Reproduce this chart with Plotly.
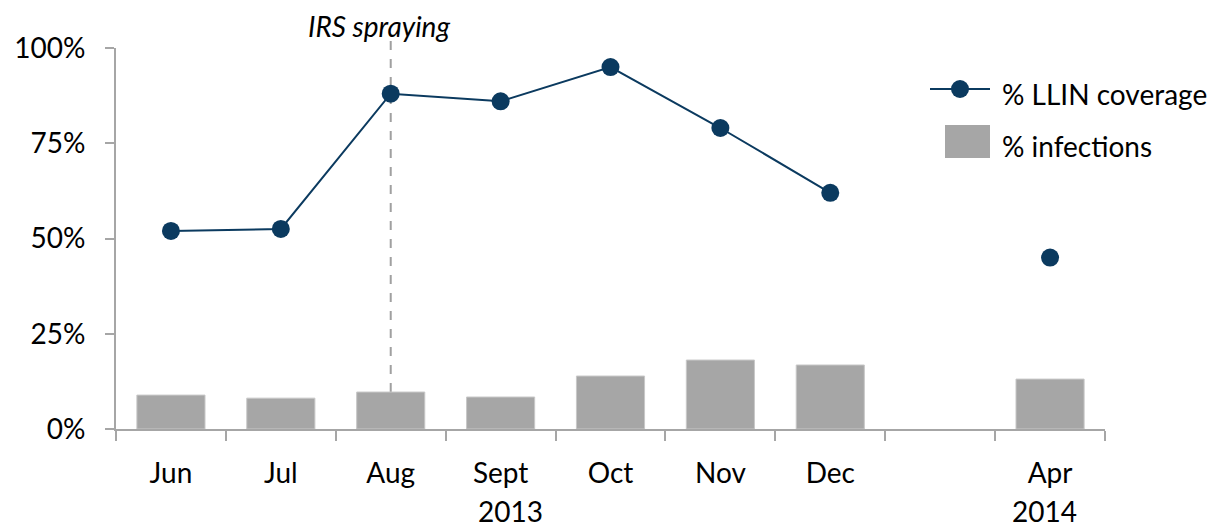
import plotly.graph_objects as go

# Survey rounds (blank slot separates 2013 from 2014)
months = ["Jun", "Jul", "Aug", "Sept", "Oct", "Nov", "Dec", " ", "Apr"]
llin_coverage = [0.52, 0.525, 0.88, 0.86, 0.95, 0.79, 0.62, None, 0.45]
infections = [0.089, 0.081, 0.097, 0.084, 0.139, 0.181, 0.168, None, 0.131]
years = ["2013", "2014"]
irs_month = "Aug"
irs_label = "IRS spraying"
series_names = ["% LLIN coverage", "% infections"]
y_ticks = [0, 0.25, 0.5, 0.75, 1.0]

NAVY = "#0B3A5F"
BAR_GREY = "#A6A6A6"
AXIS_GREY = "#A6A6A6"
FONT = "Lato"
FS = 28

W, H = 1215, 528
L, R, T, B = 116, 110, 48, 99


def px(x, y):
    """Pixel position on the page -> paper coordinates."""
    pw = W - L - R
    ph = H - T - B
    return (x - L) / pw, (H - B - y) / ph


fig = go.Figure()

fig.add_trace(go.Bar(
    x=months, y=infections, name=series_names[1],
    marker=dict(color=BAR_GREY, line=dict(color="#C8C8C8", width=1)),
    showlegend=False,
))

fig.add_trace(go.Scatter(
    x=months, y=llin_coverage, name=series_names[0],
    mode="lines+markers", connectgaps=False,
    line=dict(color=NAVY, width=2),
    marker=dict(color=NAVY, size=18),
    showlegend=False,
))

# IRS spraying marker: dashed line from the top of the August bar upwards
irs_idx = months.index(irs_month)
fig.add_shape(
    type="line", xref="x", yref="paper",
    x0=irs_month, x1=irs_month,
    y0=infections[irs_idx], y1=px(0, 33)[1],
    line=dict(color="#A0A0A0", width=2, dash="dash"),
    layer="below",
)
fig.add_annotation(
    x=irs_month, xref="x", y=px(0, 26)[1], yref="paper",
    text=f"<i>{irs_label}</i>", showarrow=False,
    xanchor="center", yanchor="middle", xshift=-12,
    font=dict(family=FONT, size=FS, color="#000000"),
)

# Year labels under the month labels
fig.add_annotation(
    x=3.09, xref="x", y=px(0, 511)[1], yref="paper",
    text=years[0], showarrow=False, xanchor="center", yanchor="middle",
    font=dict(family=FONT, size=FS, color="#000000"),
)
fig.add_annotation(
    x="Apr", xref="x", y=px(0, 511)[1], yref="paper",
    text=years[1], showarrow=False, xanchor="center", yanchor="middle",
    xshift=-6,
    font=dict(family=FONT, size=FS, color="#000000"),
)

# Legend, drawn by hand so the symbols keep their size
lx0, ly = px(930, 89)
lx1, _ = px(990, 89)
fig.add_shape(type="line", xref="paper", yref="paper",
              x0=lx0, x1=lx1, y0=ly, y1=ly,
              line=dict(color=NAVY, width=2))
fig.add_shape(type="circle", xref="paper", yref="paper",
              x0=px(951, 0)[0], x1=px(969, 0)[0],
              y0=px(0, 98)[1], y1=px(0, 80)[1],
              fillcolor=NAVY, line=dict(color=NAVY, width=0))
fig.add_shape(type="rect", xref="paper", yref="paper",
              x0=px(945, 0)[0], x1=px(990, 0)[0],
              y0=px(0, 158)[1], y1=px(0, 125)[1],
              fillcolor=BAR_GREY, line=dict(width=0))
for name, yy in zip(series_names, (94, 146)):
    fig.add_annotation(
        x=px(1000, 0)[0], xref="paper", y=px(0, yy)[1], yref="paper",
        text=name, showarrow=False, xanchor="left", yanchor="middle",
        font=dict(family=FONT, size=FS, color="#000000"),
    )

fig.update_layout(
    width=W, height=H,
    margin=dict(l=L, r=R, t=T, b=B),
    paper_bgcolor="white", plot_bgcolor="white",
    bargap=0.38,
    font=dict(family=FONT, size=FS, color="#000000"),
)

fig.update_xaxes(
    type="category", categoryorder="array", categoryarray=months,
    range=[-0.5, len(months) - 0.5],
    tickson="boundaries", ticks="outside", ticklen=10, tickwidth=2,
    tickcolor=AXIS_GREY, showline=True, linecolor=AXIS_GREY, linewidth=2,
    showgrid=False, zeroline=False,
    tickfont=dict(family=FONT, size=FS, color="#000000"),
    ticklabelstandoff=18,
)
fig.update_yaxes(
    range=[0, 1], tickvals=y_ticks, tickformat=".0%",
    ticks="outside", ticklen=9, tickwidth=2, tickcolor=AXIS_GREY,
    showline=True, linecolor=AXIS_GREY, linewidth=2,
    showgrid=False, zeroline=False,
    tickfont=dict(family=FONT, size=FS, color="#000000"),
    ticklabelstandoff=14,
)

fig.write_html("out.html")
